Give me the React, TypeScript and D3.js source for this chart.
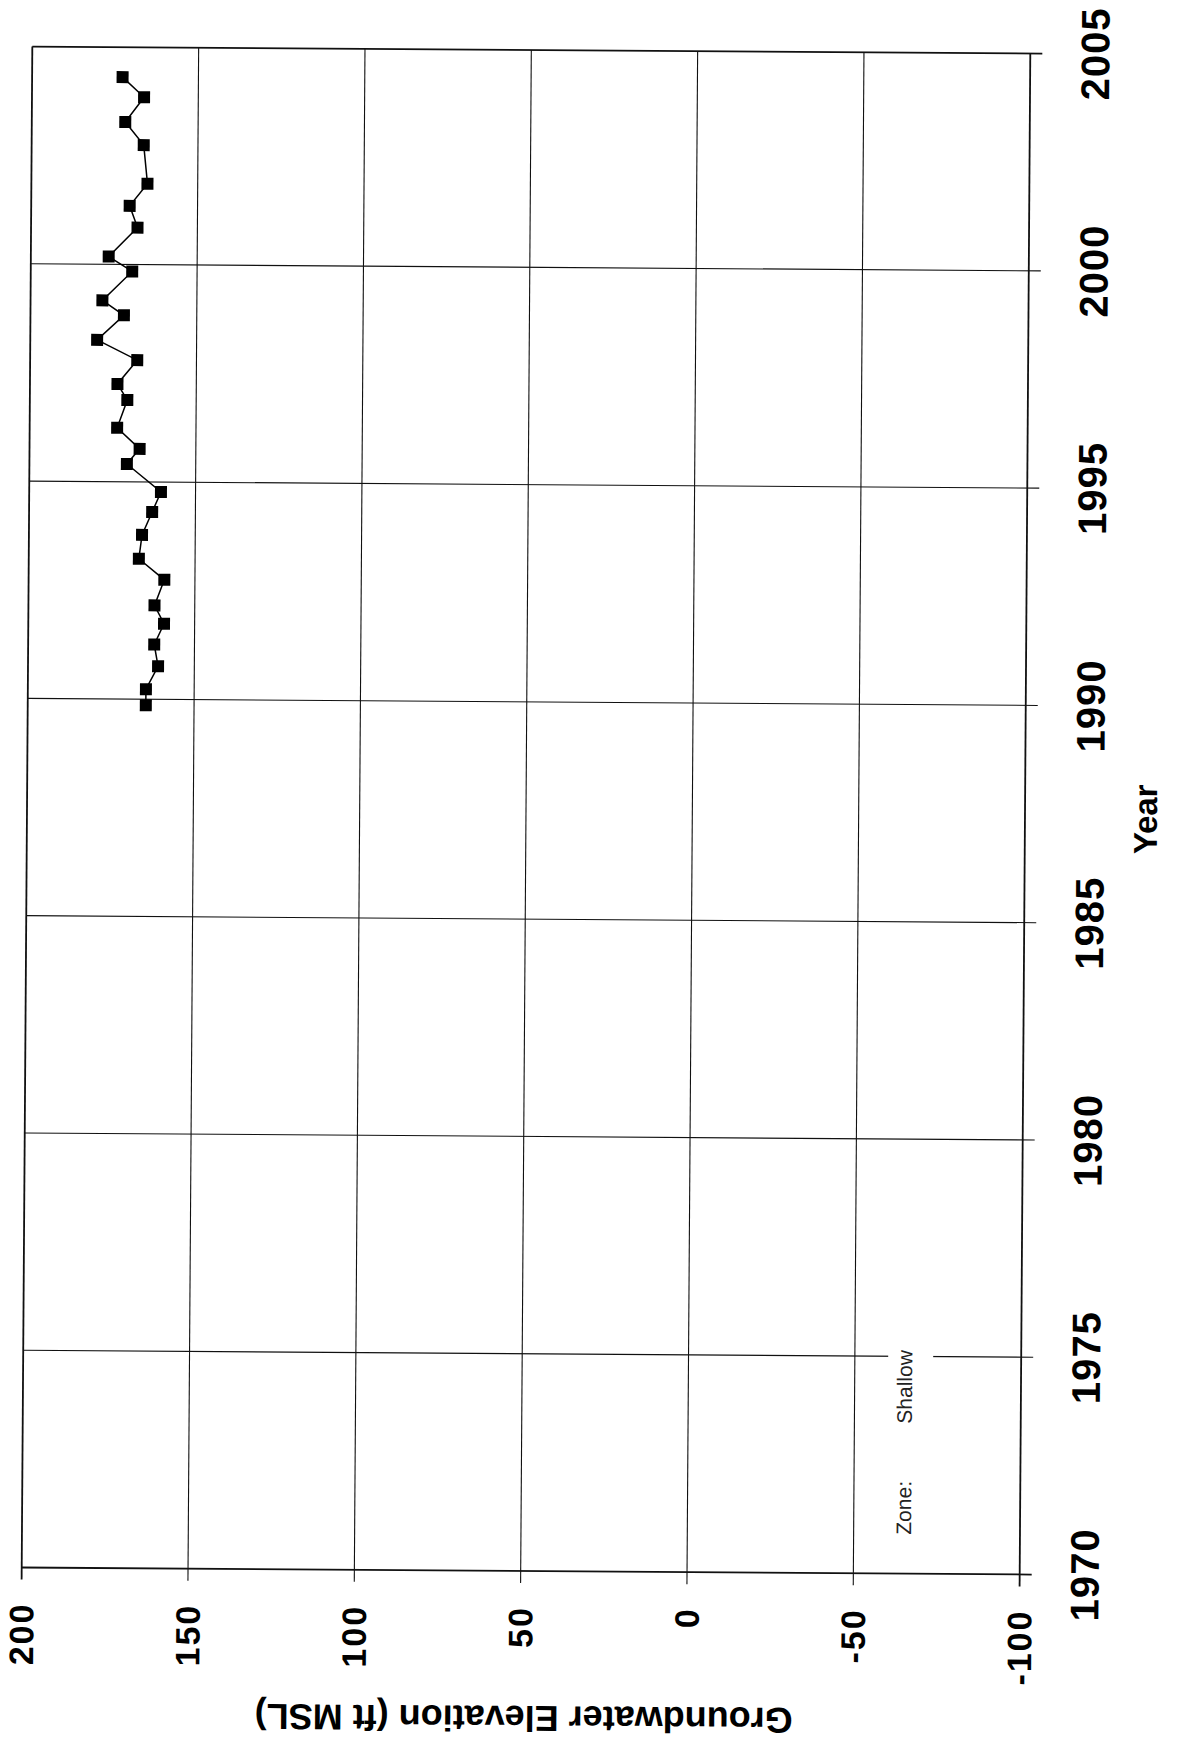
import { line, scaleLinear } from "d3";

// Groundwater elevation readings (chronological)
const sampleYears = [
  1989.86, 1990.23, 1990.76, 1991.26, 1991.74, 1992.16, 1992.75, 1993.23, 1993.78, 1994.31,
  1994.77, 1995.41, 1995.76, 1996.24, 1996.88, 1997.25, 1997.8, 1998.26, 1998.83, 1999.17,
  1999.84, 2000.18, 2000.85, 2001.35, 2001.86, 2002.75, 2003.28, 2003.85, 2004.31
];
const elevations = [
  164.5, 164.5, 160.9, 162.1, 159.2, 162.1, 159.2, 166.9, 166.0, 163.0,
  160.4, 170.7, 166.9, 173.7, 170.7, 173.7, 167.8, 179.9, 171.9, 178.4,
  169.5, 176.6, 168.0, 170.4, 165.1, 166.3, 171.9, 166.3, 172.8
];

const yearTicks = [1970, 1975, 1980, 1985, 1990, 1995, 2000, 2005];
const elevationTicks = [200, 150, 100, 50, 0, -50, -100];

const WIDTH = 1177;
const HEIGHT = 1744;
const PLOT_LEFT = 27;
const PLOT_RIGHT = 1025;
const PLOT_TOP = 50;
const PLOT_BOTTOM = 1571;
const TICK = 12;
const TILT = 0.4; // the scan is slightly skewed
const MARKER = 12;
const FONT = '"Liberation Sans", Arial, Helvetica, sans-serif';

export default function App() {
  // the page is turned on its side: elevation runs across, years run up
  const x = scaleLinear().domain([200, -100]).range([PLOT_LEFT, PLOT_RIGHT]);
  const y = scaleLinear().domain([1970, 2005]).range([PLOT_BOTTOM, PLOT_TOP]);

  const points = sampleYears.map((year, i) => ({ year, value: elevations[i] }));
  const path = line<{ year: number; value: number }>()
    .x((d) => x(d.value))
    .y((d) => y(d.year))(points);

  const cx = (PLOT_LEFT + PLOT_RIGHT) / 2;
  const cy = (PLOT_TOP + PLOT_BOTTOM) / 2;

  return (
    <>
      <style>{"body{margin:0}"}</style>
      <svg width={WIDTH} height={HEIGHT} style={{ display: "block", background: "#fff" }} fontFamily={FONT}>
        <g transform={`rotate(${TILT}, ${cx}, ${cy})`}>
          {/* year grid lines, running past the right edge as ticks */}
          {yearTicks.map((t) => (
            <line
              key={`y${t}`}
              x1={PLOT_LEFT}
              x2={PLOT_RIGHT + TICK}
              y1={y(t)}
              y2={y(t)}
              stroke="#111"
              strokeWidth={t === 1970 || t === 2005 ? 1.8 : 1.1}
            />
          ))}
          {/* elevation grid lines, running past the bottom edge as ticks */}
          {elevationTicks.map((t) => (
            <line
              key={`e${t}`}
              x1={x(t)}
              x2={x(t)}
              y1={PLOT_TOP}
              y2={PLOT_BOTTOM + TICK}
              stroke="#111"
              strokeWidth={t === 200 || t === -100 ? 1.8 : 1.1}
            />
          ))}

          {/* zone note sits on a white patch that breaks the 1975 line */}
          <rect x={892} y={1340} width={45} height={88} fill="#fff" />
          <text transform="translate(916, 1532) rotate(-90)" fontSize={21} fill="#222">
            Zone:
          </text>
          <text transform="translate(916, 1421) rotate(-90)" fontSize={21} fill="#222">
            Shallow
          </text>

          {path ? <path d={path} fill="none" stroke="#000" strokeWidth={1.5} /> : null}
          {points.map((d, i) => (
            <rect
              key={i}
              x={x(d.value) - MARKER / 2}
              y={y(d.year) - MARKER / 2}
              width={MARKER}
              height={MARKER}
              fill="#000"
            />
          ))}

          {/* year tick labels */}
          {yearTicks.map((t) => (
            <text
              key={`yl${t}`}
              transform={`translate(1104, ${y(t)}) rotate(-90)`}
              textAnchor="middle"
              fontSize={40}
              fontWeight="bold"
              letterSpacing={1}
              fill="#000"
            >
              {t}
            </text>
          ))}
          <text
            transform="translate(1157, 815) rotate(-90)"
            textAnchor="middle"
            fontSize={33}
            fontWeight="bold"
            fill="#000"
          >
            Year
          </text>

          {/* elevation tick labels */}
          {elevationTicks.map((t) => (
            <text
              key={`el${t}`}
              transform={`translate(${x(t) + 12}, 1606) rotate(-90)`}
              textAnchor="end"
              fontSize={34}
              fontWeight="bold"
              letterSpacing={2}
              fill="#000"
            >
              {t}
            </text>
          ))}
          <text
            transform="translate(530, 1706) rotate(180)"
            textAnchor="middle"
            fontSize={36}
            fontWeight="bold"
            fill="#000"
          >
            Groundwater Elevation (ft MSL)
          </text>
        </g>
      </svg>
    </>
  );
}
